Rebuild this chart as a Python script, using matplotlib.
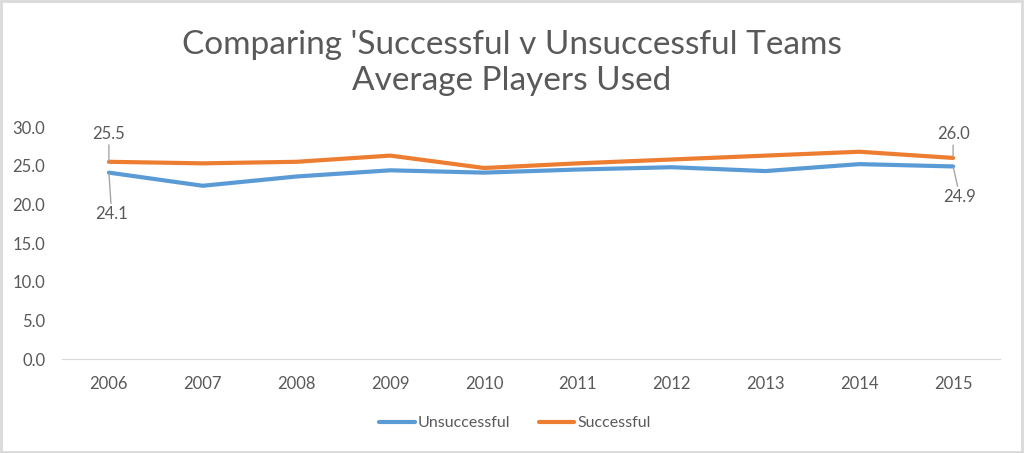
import numpy as np
import matplotlib.pyplot as plt

years = ['2006', '2007', '2008', '2009', '2010', '2011', '2012', '2013', '2014', '2015']
unsuccessful = [24.1, 22.4, 23.6, 24.4, 24.1, 24.5, 24.8, 24.3, 25.2, 24.9]
successful = [25.5, 25.3, 25.5, 26.3, 24.7, 25.3, 25.8, 26.3, 26.8, 26.0]
y_ticks = [0, 5, 10, 15, 20, 25, 30]

blue = '#5b9bd5'
orange = '#ed7d31'
text_col = '#595959'

plt.rcParams['font.family'] = ['Lato', 'DejaVu Sans']

fig = plt.figure(figsize=(10.24, 4.53), dpi=100)
ax = fig.add_axes([62 / 1024, 1 - 359 / 453, 938 / 1024, 232 / 453])

x = np.arange(len(years))
ax.plot(x, unsuccessful, color=blue, lw=3, label='Unsuccessful', solid_capstyle='round')
ax.plot(x, successful, color=orange, lw=3, label='Successful', solid_capstyle='round')

ax.set_xlim(-0.5, len(years) - 0.5)
ax.set_ylim(0, 30)
ax.set_xticks(x)
ax.set_xticklabels(years)
ax.set_yticks(y_ticks)
ax.set_yticklabels(['%.1f' % v for v in y_ticks])
ax.tick_params(length=0, labelsize=12, colors=text_col, pad=12)
ax.tick_params(axis='y', pad=12)
for s in ['top', 'right', 'left']:
    ax.spines[s].set_visible(False)
ax.spines['bottom'].set_color('#d9d9d9')

# data labels with leader lines at first and last points
lbl = dict(fontsize=12, color=text_col, ha='center', va='center')
arr = dict(arrowstyle='-', color='#a6a6a6', lw=1, shrinkA=0, shrinkB=1)
ax.annotate('%.1f' % successful[0], (x[0], successful[0]), xytext=(0, 20),
            textcoords='offset points', arrowprops=arr, **lbl)
ax.annotate('%.1f' % unsuccessful[0], (x[0], unsuccessful[0]), xytext=(2, -30),
            textcoords='offset points', arrowprops=arr, **lbl)
ax.annotate('%.1f' % successful[-1], (x[-1], successful[-1]), xytext=(0, 17),
            textcoords='offset points', arrowprops=arr, **lbl)
ax.annotate('%.1f' % unsuccessful[-1], (x[-1], unsuccessful[-1]), xytext=(5, -22),
            textcoords='offset points', arrowprops=arr, **lbl)

fig.text(0.5, 1 - 63 / 453, "Comparing 'Successful v Unsuccessful Teams\nAverage Players Used",
         ha='center', va='center', fontsize=24, color=text_col, linespacing=1.25)

fig.legend(loc='center', bbox_to_anchor=(0.503, 1 - 423 / 453), ncol=2, frameon=False,
           fontsize=11.5, handlelength=2.2, columnspacing=1.8, handletextpad=0.2,
           labelcolor=text_col)

fig.patches.append(plt.Rectangle((0.001, 0.002), 0.997, 0.995, transform=fig.transFigure,
                                 fill=False, edgecolor='#d9d9d9', lw=2))

fig.savefig('out.png', dpi=100)
